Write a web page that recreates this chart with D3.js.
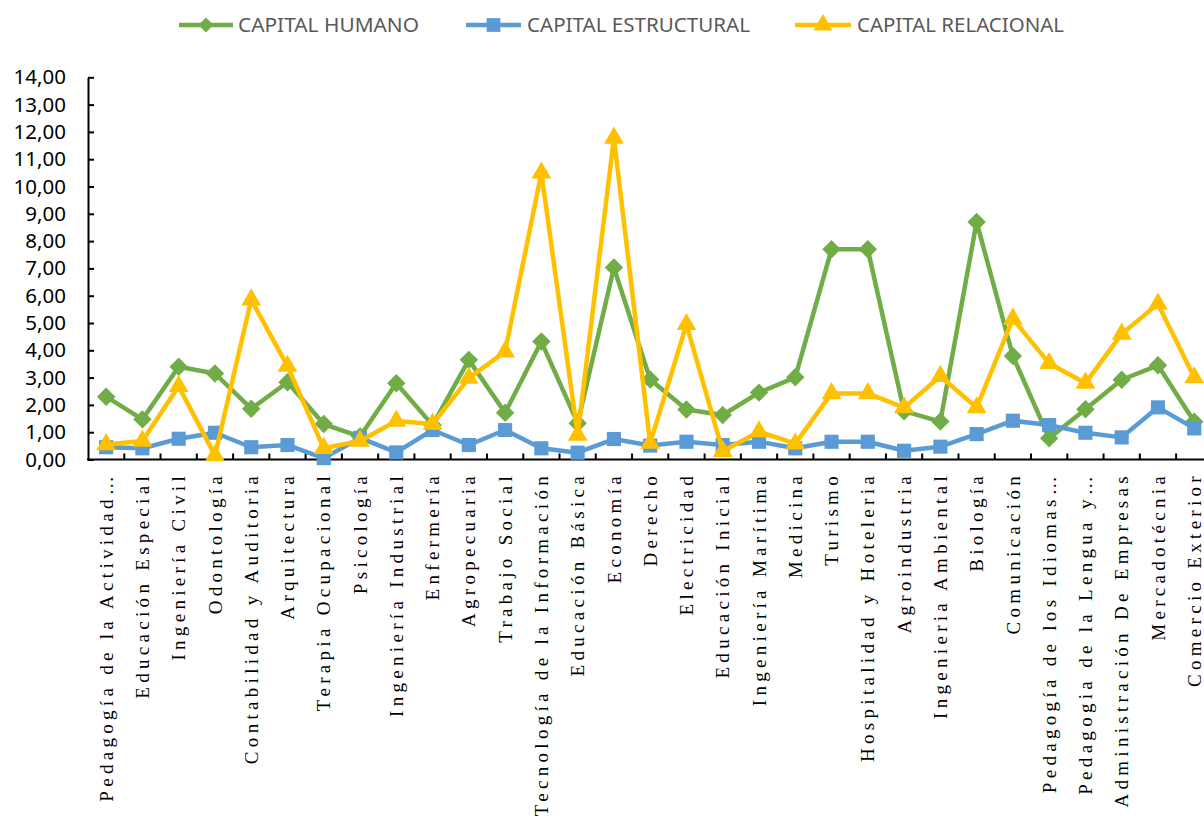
<!DOCTYPE html>
<html><head><meta charset="utf-8">
<script src="https://cdn.jsdelivr.net/npm/d3@7"></script>
<style>
html,body{margin:0;padding:0;background:#fff;}
svg{display:block;}
</style></head>
<body>
<svg id="chart" width="1204" height="830"></svg>
<script>
const categories = ["Pedagogía de la Actividad…","Educación Especial","Ingeniería Civil","Odontología","Contabilidad y Auditoria","Arquitectura","Terapia Ocupacional","Psicología","Ingeniería Industrial","Enfermería","Agropecuaria","Trabajo Social","Tecnología de la Información","Educación Básica","Economía","Derecho","Electricidad","Educación Inicial","Ingeniería Marítima","Medicina","Turismo","Hospitalidad y Hoteleria","Agroindustria","Ingenieria Ambiental","Biología","Comunicación","Pedagogía de los Idiomas…","Pedagogia de la Lengua y…","Administración De Empresas","Mercadotécnia","Comercio Exterior"];
const capitalHumano = [2.30,1.47,3.40,3.15,1.86,2.83,1.30,0.84,2.79,1.26,3.65,1.71,4.32,1.33,7.03,2.93,1.83,1.63,2.45,3.01,7.70,7.70,1.77,1.39,8.70,3.79,0.78,1.84,2.92,3.45,1.38];
const capitalEstructural = [0.45,0.41,0.76,0.98,0.45,0.53,0.05,0.79,0.26,1.08,0.53,1.08,0.41,0.25,0.75,0.51,0.65,0.53,0.65,0.41,0.65,0.65,0.32,0.47,0.93,1.42,1.26,0.98,0.81,1.91,1.14];
const capitalRelacional = [0.55,0.68,2.68,0.15,5.85,3.42,0.41,0.68,1.41,1.30,2.98,3.95,10.50,0.90,11.78,0.60,4.95,0.30,1.02,0.58,2.42,2.42,1.90,3.05,1.90,5.15,3.52,2.80,4.60,5.70,3.00];
const yTicks = [0,1,2,3,4,5,6,7,8,9,10,11,12,13,14];
const seriesNames = ["CAPITAL HUMANO","CAPITAL ESTRUCTURAL","CAPITAL RELACIONAL"];

const series = [
  {name: seriesNames[0], values: capitalHumano, color: "#70AD47", marker: "diamond"},
  {name: seriesNames[1], values: capitalEstructural, color: "#5B9BD5", marker: "square"},
  {name: seriesNames[2], values: capitalRelacional, color: "#FFC000", marker: "triangle"}
];

const svg = d3.select("#chart");
const left = 88, bandW = 36.27;
const x = d3.scaleBand().domain(categories).range([left, left + bandW*categories.length]).padding(0);
const y = d3.scaleLinear().domain([0,14]).range([459.5, 77.3]);
const fmt = v => d3.format(".2f")(v).replace(".", ",");

// Y axis
const yAxis = d3.axisLeft(y).tickValues(yTicks).tickSizeInner(-6).tickSizeOuter(0).tickPadding(22).tickFormat(fmt);
const gy = svg.append("g").attr("transform", `translate(${left},0)`).call(yAxis);
gy.select(".domain").attr("stroke","#000").attr("stroke-width",2);
gy.selectAll(".tick line").attr("stroke","#000").attr("stroke-width",2);
gy.selectAll(".tick text").attr("font-family","'Noto Sans', sans-serif").attr("font-size",20.5).attr("fill","#000");

// X axis line and ticks
svg.append("line").attr("x1", left-1).attr("x2", 1204).attr("y1", y(0)).attr("y2", y(0)).attr("stroke","#000").attr("stroke-width",2);
svg.append("g").selectAll("line").data(categories.slice(1)).join("line")
  .attr("x1", d => x(d)).attr("x2", d => x(d))
  .attr("y1", y(0)).attr("y2", y(0)-6)
  .attr("stroke","#000").attr("stroke-width",2);

// X labels
svg.append("g").selectAll("text").data(categories).join("text")
  .attr("transform", d => `translate(${x(d)+x.bandwidth()/2},${472}) rotate(-90)`)
  .attr("text-anchor","end")
  .attr("dy","0.35em")
  .attr("font-family","'Liberation Serif', 'Times New Roman', serif")
  .attr("font-size",19)
  .attr("letter-spacing","4.3px")
  .attr("fill","#000")
  .text(d => d);

// markers
function markerPath(type, size){
  if(type==="diamond") return d3.symbol().type(d3.symbolSquare).size(size)();
  if(type==="square") return d3.symbol().type(d3.symbolSquare).size(size)();
  return d3.symbol().type(d3.symbolTriangle).size(size)();
}
const mSize = {diamond: 170, square: 200, triangle: 170};
const legSize = {diamond: 115, square: 190, triangle: 160};
const mRot = {diamond: 45, square: 0, triangle: 0};

const line = d3.line().x((d,i) => x(categories[i]) + x.bandwidth()/2).y(d => y(d));

series.forEach(s => {
  const g = svg.append("g");
  g.append("path").datum(s.values).attr("d", line)
    .attr("fill","none").attr("stroke", s.color).attr("stroke-width",4.5).attr("stroke-linejoin","round");
  g.selectAll("path.m").data(s.values).join("path").attr("class","m")
    .attr("d", markerPath(s.marker, mSize[s.marker]))
    .attr("transform",(d,i)=>`translate(${x(categories[i])+x.bandwidth()/2},${y(d)}) rotate(${mRot[s.marker]})`)
    .attr("fill", s.color);
});

// Legend
const legendItems = [
  {lx1:179, lx2:233, tx:238, tw:181},
  {lx1:466, lx2:521, tx:527, tw:223},
  {lx1:795, lx2:851, tx:857, tw:207}
];
const lg = svg.append("g");
series.forEach((s,i) => {
  const it = legendItems[i], ly = 25;
  lg.append("line").attr("x1",it.lx1).attr("x2",it.lx2).attr("y1",ly).attr("y2",ly).attr("stroke",s.color).attr("stroke-width",4.5);
  lg.append("path").attr("d", markerPath(s.marker, legSize[s.marker]))
    .attr("transform",`translate(${(it.lx1+it.lx2)/2},${ly}) rotate(${mRot[s.marker]})`).attr("fill",s.color);
  lg.append("text").attr("x",it.tx).attr("y",ly).attr("dy","0.36em")
    .attr("font-family","'Noto Sans', sans-serif").attr("font-size",19)
    .attr("textLength",it.tw).attr("lengthAdjust","spacingAndGlyphs")
    .attr("fill","#595959").text(s.name);
});
</script>
</body></html>
